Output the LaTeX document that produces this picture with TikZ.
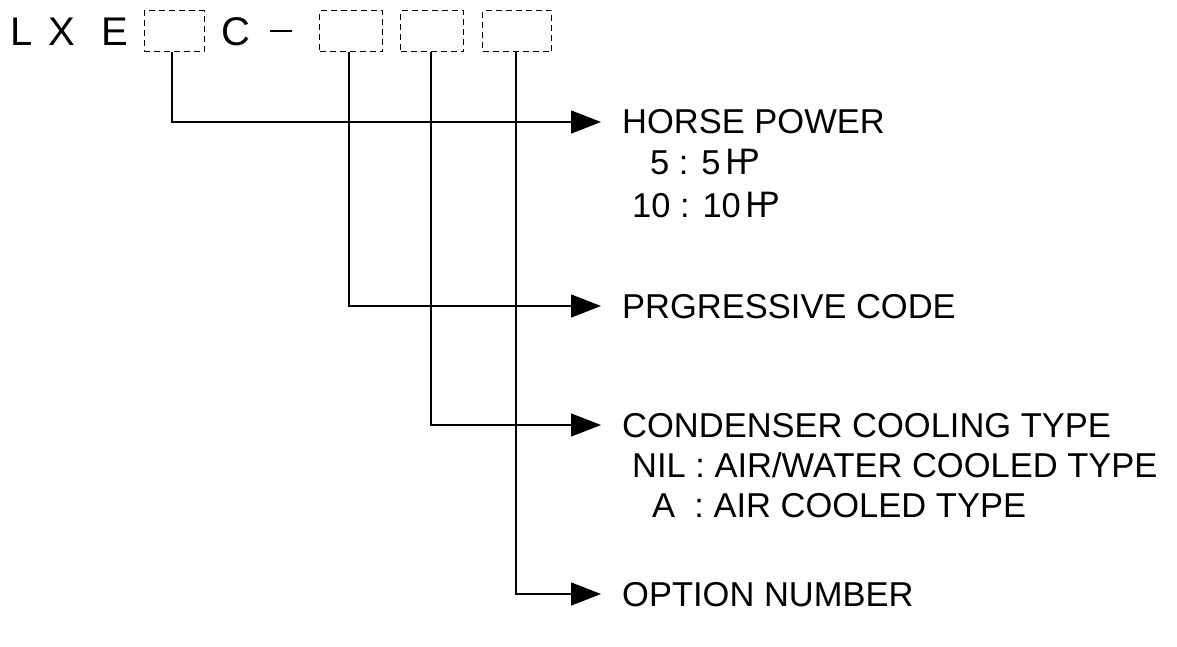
\documentclass[tikz,border=0pt]{standalone}
\usepackage{fontspec}
\setmainfont{Liberation Sans}
\newfontfamily\cjkf{Noto Sans CJK SC}
\usetikzlibrary{arrows.meta}
\begin{document}
\begin{tikzpicture}[x=1pt,y=-1pt,
  codebox/.style={draw,dashed,dash pattern=on 6pt off 4pt,line width=1pt,inner sep=0pt},
  conn/.style={line width=1.4pt,-{Triangle[length=30pt,width=23pt]}},
  big/.style={inner sep=0pt,anchor=base west,font=\fontsize{40}{40}\selectfont},
  lbl/.style={inner sep=0pt,anchor=base west,font=\fontsize{34.5}{34.5}\selectfont}]
\useasboundingbox (0,0) rectangle (1177,647);
% top code row
\node[big] (L) at (10,46) {L};
\node[big] (X) at (48,46) {X};
\node[big] (E) at (101,46) {E};
\node[codebox,minimum width=60pt,minimum height=41pt] (b1) at (174,31.5) {};
\node[big] (C) at (221,46) {C};
\coordinate (d1) at (270,31);
\coordinate (d2) at (292,31);
\draw[line width=1.4pt] (d1) -- (d2);
\node[codebox,minimum width=63pt,minimum height=41pt] (b2) at (351,31.5) {};
\node[codebox,minimum width=63pt,minimum height=41pt] (b3) at (432,31.5) {};
\node[codebox,minimum width=69pt,minimum height=41pt] (b4) at (517,31.5) {};
% arrow tips
\coordinate (a1) at (601,122);
\coordinate (a2) at (601,306);
\coordinate (a3) at (601,425);
\coordinate (a4) at (601,594);
\draw[conn] (b1.south -| 172,0) |- (a1);
\draw[conn] (b2.south -| 349,0) |- (a2);
\draw[conn] (b3.south -| 431,0) |- (a3);
\draw[conn] (b4.south -| 516,0) |- (a4);
% labels
\node[lbl] (t1) at (622,134) {HORSE POWER};
\node[lbl] (t1a) at (650,175) {5 : 5\kern5pt{\cjkf ㏋}};
\node[lbl] (t1b) at (632,217) {10 : 10\kern5pt{\cjkf ㏋}};
\node[lbl] (t2) at (622,318) {PRGRESSIVE CODE};
\node[lbl] (t3) at (622,437) {CONDENSER COOLING TYPE};
\node[lbl] (t3a) at (632,477) {NIL : AIR/WATER COOLED TYPE};
\node[lbl] (t3b) at (652,517) {A~~: AIR COOLED TYPE};
\node[lbl] (t4) at (622,606) {OPTION NUMBER};
\end{tikzpicture}
\end{document}
